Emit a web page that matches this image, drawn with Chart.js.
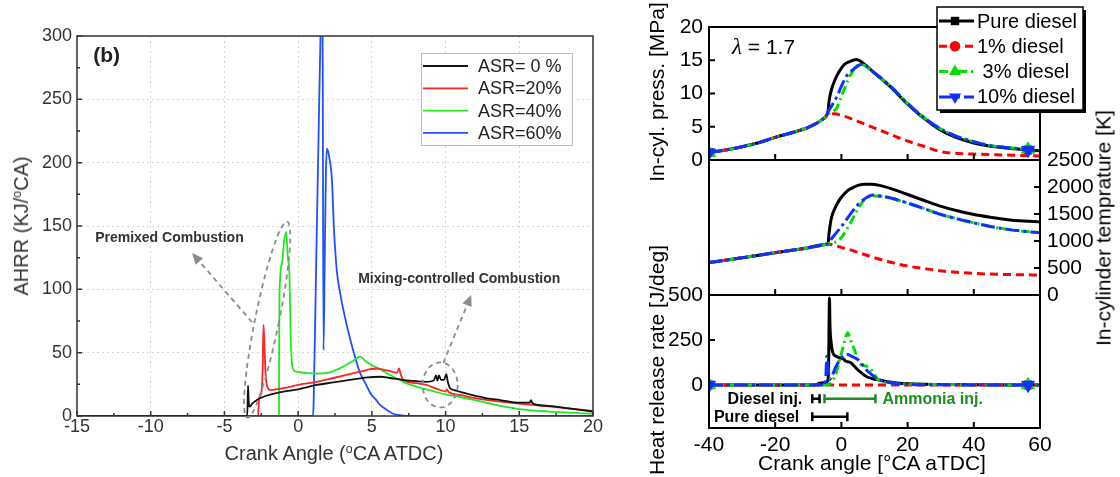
<!DOCTYPE html>
<html><head><meta charset="utf-8">
<script src="https://cdn.jsdelivr.net/npm/chart.js@4.4.1/dist/chart.umd.min.js"></script>
<style>
html,body{margin:0;padding:0;background:#fff;overflow:hidden;}
#wrap{position:relative;width:1120px;height:477px;font-family:'Liberation Sans',Arial,sans-serif;}
canvas{position:absolute;top:0;}
.t{position:absolute;white-space:nowrap;line-height:1;transform:translate(-50%,-50%);}
.r{transform:translate(-50%,-50%) rotate(-90deg);}
sup{font-size:0.62em;line-height:0;vertical-align:0.6em;}
</style></head><body>
<div id="wrap">
<canvas id="cL" width="640" height="477" style="left:0"></canvas>
<canvas id="cP" width="480" height="477" style="left:640px"></canvas>
<canvas id="cT" width="480" height="477" style="left:640px"></canvas>
<canvas id="cH" width="480" height="477" style="left:640px"></canvas>
<div class="t r" style="left:21px;top:226px;font-size:20px;color:#333">AHRR (KJ/<sup>o</sup>CA)</div>
<div class="t" style="left:334px;top:453px;font-size:20px;color:#333">Crank Angle (<sup>o</sup>CA ATDC)</div>
<div class="t r" style="left:656px;top:92px;font-size:21px;">In-cyl. press. [MPa]</div>
<div class="t r" style="left:656px;top:360px;font-size:21px;">Heat release rate [J/deg]</div>
<div class="t r" style="left:1103px;top:228px;font-size:21px;">In-cylinder temprature [K]</div>
<div class="t" style="left:872px;top:462px;font-size:21px;">Crank angle [°CA aTDC]</div>
</div>
<script>
// ---------------- LEFT CHART DATA (AHRR) ----------------
const leftLabels = ['ASR= 0 %','ASR=20%','ASR=40%','ASR=60%'];
const asr0X = [-15,-3.45,-3.4,-3.37,-3.33,-3.28,-3.1,-2.8,-2.4,-2.0,-1.5,-1.0,0,1.27,2.4,3.5,4.7,5.6,6.2,7.15,8.0,8.7,9.2,9.35,9.45,9.55,9.7,9.9,10.05,10.15,10.3,10.6,11.0,11.5,12.8,13.7,15.0,15.7,15.8,15.9,17.0,18.2,20];
const asr0Y = [0,0,24,16,8,7.4,10,12.6,15,16.5,18,19.2,21,24.5,26.5,28.5,30.5,31,30,28.4,27.5,27,28,32,28,32,28.5,28.5,33,27,22,20.5,19,17.5,14,12.6,10.5,10.5,12.5,10,8,6.3,3.5];
const asr20X = [-15,-2.72,-2.65,-2.5,-2.4,-2.35,-2.3,-2.2,-2.05,-1.9,-1.5,-1.0,0,1.27,2.4,3.5,4.2,5.3,5.6,6.4,6.7,6.85,6.95,7.15,8.0,8.7,9.5,10.0,10.1,10.2,11.0,11.8,13.7,15.0,17.5,20];
const asr20Y = [0,0,14,18,40,72,60,32,22,20.5,21,22,24.5,27,30,33,35,37.5,37,35,34,37.5,33,28.4,26,24.5,21,19.5,21,19,16.6,14.5,11.3,9.8,7,4];
const asr40X = [-15,-1.3,-1.27,-1.1,-0.95,-0.81,-0.7,-0.59,-0.5,-0.35,-0.1,0.5,1.27,2.0,2.9,3.5,3.8,4.2,4.6,5.1,5.56,6.2,6.9,7.4,8.7,9.2,10.0,11.0,12.0,13.7,15.0,17.0,20];
const asr40Y = [0,0,94,120,138,145.5,125,112,60,37,35,34,33.5,34,38,42,44,46.8,43,39.5,37,32.5,28.5,25.5,21,19.5,17,15,12.5,8,5.5,3.5,1.8];
const asr60X = [-15,1.0,1.05,1.2,1.4,1.55,1.6,1.66,1.72,1.8,1.88,1.95,2.1,2.3,2.42,2.62,2.85,3.1,3.5,3.9,4.2,4.6,4.9,5.3,5.56,6.0,6.4,7.0,7.6,20];
const asr60Y = [0,0,10,105,230,320,340,300,52,120,190,211,205,185,150,115,97,82,62,45,34,25,18,12.5,8.7,5,2,0.5,0,0];

// ---------------- RIGHT PANEL DATA ----------------
const rightLabels = ['Pure diesel','1% diesel',' 3% diesel','10% diesel'];
const markerXs = [-40, 56.4];
// In-cylinder pressure [MPa]
const pPureX = [-40,-35,-30,-25,-20,-15,-10,-6,-4.5,-4,-3.8,-3.5,-3,-2,-1,0,1,2.5,4.5,6.5,9.5,14.6,19.6,24.6,29.6,34.6,39.7,44.7,49.7,56.4,60];
const pPureY = [1.1,1.5,2.0,2.6,3.4,4.1,4.9,6.0,6.7,7.4,8.5,9.5,10.6,12.0,13.0,13.8,14.4,14.8,15.1,14.6,13.3,11.1,8.6,6.4,4.6,3.4,2.6,2.1,1.8,1.5,1.4];
const p1X = [-40,-35,-30,-25,-20,-15,-10,-6,-4,-2,0,2,5,9.5,14.6,19.6,24.6,29.6,34.6,39.7,49.7,56.4,60];
const p1Y = [1.1,1.5,2.0,2.6,3.4,4.1,4.9,6.0,6.7,6.95,6.7,6.4,5.8,4.9,3.9,2.9,2.1,1.3,1.0,0.9,0.75,0.65,0.6];
const p3X = [-40,-35,-30,-25,-20,-15,-10,-6,-4,-2,-1.5,-1,0,1,2,3,4,5.5,6.5,9.5,14.6,19.6,24.6,29.6,34.6,39.7,44.7,49.7,56.4,60];
const p3Y = [1.1,1.5,2.0,2.6,3.4,4.1,4.9,6.0,6.9,7.5,7.7,8.3,9.6,10.8,12.0,13.0,13.8,14.3,14.3,13.2,11.2,8.7,6.5,4.8,3.6,2.8,2.2,1.9,1.6,1.5];
const p10X = [-40,-35,-30,-25,-20,-15,-10,-6,-4.5,-4,-3,-2,-1,0,1.5,3.5,5.5,6.5,9.5,14.6,19.6,24.6,29.6,34.6,39.7,44.7,49.7,56.4,60];
const p10Y = [1.1,1.5,2.0,2.6,3.4,4.1,4.9,6.0,6.7,7.3,8.1,8.9,9.9,11.1,12.6,13.6,14.3,14.4,13.3,11.2,8.7,6.5,4.8,3.6,2.8,2.2,1.9,1.5,1.4];
// In-cylinder temperature [K]
const tPureX = [-40,-30,-20,-10,-5,-4,-3.8,-3.5,-3,-2,-1,0,1,2,3.5,5,7,9,11.5,15,19.6,25,29.6,35,39.7,45,49.7,55,60];
const tPureY = [600,690,784,876,935,950,1100,1250,1430,1600,1720,1810,1880,1940,1990,2030,2050,2050,2030,1970,1870,1750,1650,1560,1495,1440,1400,1370,1355];
const t1X = [-40,-30,-20,-10,-5,-4.5,-3,-1,0,2.5,5,9.5,14.6,19.6,25,29.6,35,39.7,49.7,60];
const t1Y = [600,690,784,876,935,945,935,900,880,840,790,700,610,540,490,450,420,400,380,370];
const t3X = [-40,-30,-20,-10,-5,-4,-2,-0.5,1,2.5,4,5.5,7,9.5,12,14.6,19.6,25,29.6,35,39.7,45,49.7,55,60];
const t3Y = [600,690,784,876,935,950,975,1030,1150,1310,1480,1650,1760,1835,1830,1800,1710,1600,1500,1410,1340,1270,1220,1180,1155];
const t10X = [-40,-30,-20,-10,-5,-4,-3.5,-1.5,0.5,2.5,4.5,7,9.5,12,14.6,19.6,25,29.6,35,39.7,45,49.7,55,60];
const t10Y = [600,690,784,876,935,955,1000,1154,1309,1480,1640,1780,1850,1830,1800,1710,1600,1500,1410,1340,1270,1220,1180,1155];
// Heat release rate [J/deg]
const hPureX = [-40,-8,-6.6,-5,-4.3,-3.9,-3.75,-3.6,-3.45,-3.1,-2.6,-1.6,-0.6,0.5,1.4,2.2,2.9,3.6,4.4,5.5,7.5,9.5,11.5,14,17.5,22,30,40,56.4,60];
const hPureY = [0,0,10,13,18,60,300,483,330,237,180,160,152,145,132,128,123,110,95,75,47,35,28,18,10,6,3,1,0,0];
const h1X = [-40,0,56.4,60];
const h1Y = [0,0,0,0];
const h3X = [-40,-4,-3.6,-2.5,-1.6,-0.5,0.5,1.3,1.9,2.5,3.2,3.9,4.6,5.4,6.5,8.5,10,11,13,16,20,30,40,56.4,60];
const h3Y = [0,0,5,28,66,141,210,265,290,265,230,199,160,123,110,95,57,30,15,10,5,3,1,0,0];
const h10X = [-40,-5,-4.8,-4.6,-4.4,-4.0,-3.6,-3.0,-1.6,0.4,1.9,3.0,4.9,6.2,7.5,9,10.5,12,14,17.5,22,30,40,56.4,60];
const h10Y = [0,0,5,90,160,100,30,45,104,160,170,160,142,115,85,60,38,25,15,5,2,1,0,0,0];
// Injection windows (bottom panel)
const injLabels = ['Diesel inj.','Ammonia inj.','Pure diesel'];
const injStart = [-8.8,-5.1,-8.8];
const injEnd = [-6.6,10.3,1.8];
const injLevel = [-76,-76,-176];

// ---------------- STYLES ----------------
Chart.defaults.font.family = "'Liberation Sans', Arial, sans-serif";
Chart.defaults.color = '#000';
const FONT = "'Liberation Sans', Arial, sans-serif";
const leftColors = ['#111111','#ff2222','#22e622','#2050ff'];
const rightColors = ['#000000','#ff0000','#00dd00','#1030ff'];
const rightDash = [[], [8,5], [9,4,2,4], [14,4,3,4]];
const rightMarkers = ['rect','circle','triangle','triangleDown'];
const markerRadius = [5.5, 0, 7.5, 7.5];

const zip = (xs, ys) => xs.map((x, i) => ({x: x, y: ys[i]}));

function drawMarker(ctx, type, x, y, r, color){
  ctx.save(); ctx.setLineDash([]); ctx.fillStyle = color; ctx.beginPath();
  if (type === 'rect') { ctx.rect(x - r*0.6, y - r*0.6, r*1.2, r*1.2); }
  else if (type === 'circle') { ctx.arc(x, y, r*0.75, 0, Math.PI*2); }
  else if (type === 'triangle') { ctx.moveTo(x, y - r); ctx.lineTo(x + r*0.87, y + r*0.5); ctx.lineTo(x - r*0.87, y + r*0.5); ctx.closePath(); }
  else { ctx.moveTo(x, y + r); ctx.lineTo(x + r*0.87, y - r*0.5); ctx.lineTo(x - r*0.87, y - r*0.5); ctx.closePath(); }
  ctx.fill(); ctx.restore();
}

function arrow(ctx, x1, y1, x2, y2, head){
  const ang = Math.atan2(y2 - y1, x2 - x1);
  const bx = x2 - head*Math.cos(ang), by = y2 - head*Math.sin(ang);
  ctx.beginPath(); ctx.moveTo(x1, y1); ctx.lineTo(bx, by); ctx.stroke();
  ctx.save(); ctx.setLineDash([]); ctx.beginPath();
  ctx.moveTo(x2, y2);
  ctx.lineTo(bx + head*0.45*Math.sin(ang), by - head*0.45*Math.cos(ang));
  ctx.lineTo(bx - head*0.45*Math.sin(ang), by + head*0.45*Math.cos(ang));
  ctx.closePath(); ctx.fill(); ctx.restore();
}

// ---------------- LEFT CHART ----------------
const leftXs = [asr0X, asr20X, asr40X, asr60X];
const leftYs = [asr0Y, asr20Y, asr40Y, asr60Y];
const leftSets = leftLabels.map((lab, i) => ({
  label: lab, data: zip(leftXs[i], leftYs[i]), borderColor: leftColors[i], backgroundColor: leftColors[i],
  borderWidth: 1.8, pointRadius: 0, cubicInterpolationMode: 'monotone', fill: false
}));

const leftDeco = {
  id: 'leftDeco',
  afterDatasetsDraw(chart){
    const ctx = chart.ctx, a = chart.chartArea, x = chart.scales.x, y = chart.scales.y;
    ctx.save();
    ctx.setLineDash([]); ctx.strokeStyle = '#333'; ctx.lineWidth = 1.5;
    ctx.strokeRect(a.left, a.top, a.right - a.left, a.bottom - a.top);
    ctx.beginPath();
    for (let v = -15; v <= 20; v += 2.5) { const p = x.getPixelForValue(v); const len = (Math.abs(v % 5) < 1e-6) ? 5 : 3; ctx.moveTo(p, a.bottom); ctx.lineTo(p, a.bottom - len); }
    for (let v = 0; v <= 300; v += 25) { const p = y.getPixelForValue(v); const len = (v % 50 === 0) ? 5 : 3; ctx.moveTo(a.left, p); ctx.lineTo(a.left + len, p); }
    ctx.stroke();

    // annotations
    ctx.strokeStyle = '#8c8c8c'; ctx.fillStyle = '#8c8c8c'; ctx.lineWidth = 1.8; ctx.setLineDash([5,4]);
    ctx.beginPath(); ctx.ellipse(x.getPixelForValue(-2.1), y.getPixelForValue(76), 12, 100, 0.2, 0, Math.PI*2); ctx.stroke();
    arrow(ctx, x.getPixelForValue(-3.12), y.getPixelForValue(74), x.getPixelForValue(-7.19), y.getPixelForValue(128.6), 11);
    ctx.beginPath(); ctx.ellipse(x.getPixelForValue(9.63), y.getPixelForValue(24.5), 17.5, 22.5, 0, 0, Math.PI*2); ctx.stroke();
    arrow(ctx, x.getPixelForValue(9.84), y.getPixelForValue(41.8), x.getPixelForValue(11.74), y.getPixelForValue(95.5), 11);
    ctx.setLineDash([]);
    ctx.fillStyle = '#333'; ctx.textBaseline = 'middle'; ctx.textAlign = 'left';
    ctx.font = 'bold 14px ' + FONT;
    ctx.fillText('Premixed Combustion', x.getPixelForValue(-13.77), y.getPixelForValue(140.5));
    ctx.fillText('Mixing-controlled Combustion', x.getPixelForValue(4.07), y.getPixelForValue(108));
    ctx.fillStyle = '#222'; ctx.font = 'bold 21px ' + FONT;
    ctx.fillText('(b)', x.getPixelForValue(-13.9), y.getPixelForValue(284));

    // legend
    const L = a.right - 172, T = a.top + 17, W = 151, H = 92;
    ctx.fillStyle = '#fff'; ctx.fillRect(L, T, W, H);
    ctx.strokeStyle = '#bdbdbd'; ctx.lineWidth = 1; ctx.strokeRect(L + 0.5, T + 0.5, W, H);
    ctx.font = '18px ' + FONT;
    chart.data.datasets.forEach((ds, i) => {
      const yy = T + 13 + i*22.3;
      ctx.strokeStyle = ds.borderColor; ctx.lineWidth = 1.8;
      ctx.beginPath(); ctx.moveTo(L + 2, yy); ctx.lineTo(L + 47, yy); ctx.stroke();
      ctx.fillStyle = '#222'; ctx.fillText(ds.label, L + 57, yy + 1);
    });
    ctx.restore();
  }
};

new Chart(document.getElementById('cL'), {
  type: 'line',
  data: { datasets: leftSets },
  options: {
    responsive: false, animation: false, events: [],
    layout: { padding: { top: 36, right: 47, left: 0, bottom: 0 } },
    plugins: { legend: { display: false }, tooltip: { enabled: false } },
    scales: {
      x: { type: 'linear', min: -15, max: 20,
        ticks: { stepSize: 5, padding: 0, color: '#333', font: { size: 18 }, maxRotation: 0, autoSkip: false, callback: v => String(v) },
        grid: { color: '#d6d6d6', lineWidth: 1, drawTicks: false }, border: { display: false, dash: [2,3] },
        afterFit: s => { s.height = 61; } },
      y: { type: 'linear', min: 0, max: 300,
        ticks: { stepSize: 50, padding: 5, color: '#333', font: { size: 18 }, autoSkip: false, callback: v => String(v) },
        grid: { color: '#d6d6d6', lineWidth: 1, drawTicks: false }, border: { display: false, dash: [2,3] },
        afterFit: s => { s.width = 77; } }
    }
  },
  plugins: [leftDeco]
});

// ---------------- RIGHT CHARTS ----------------
function rds(xs, ys, i, markers){
  const down = rightMarkers[i] === 'triangleDown';
  return {
    label: rightLabels[i], data: zip(xs, ys), borderColor: rightColors[i], backgroundColor: rightColors[i],
    borderWidth: 3, borderDash: rightDash[i], cubicInterpolationMode: 'monotone', fill: false,
    pointStyle: down ? 'triangle' : rightMarkers[i], pointRotation: down ? 180 : 0,
    pointRadius: markers ? (c => (c.raw && markerXs.includes(c.raw.x)) ? markerRadius[i] : 0) : 0,
    pointBorderWidth: 1, pointBorderColor: rightColors[i], pointBackgroundColor: rightColors[i],
    order: 3 - i
  };
}

function rightDeco(name, side, yTicks, extra){
  return {
    id: 'rd' + name,
    afterDatasetsDraw(chart){
      const ctx = chart.ctx, a = chart.chartArea, xs = chart.scales.x, ys = chart.scales.y;
      ctx.save(); ctx.setLineDash([]);
      ctx.strokeStyle = '#000'; ctx.lineWidth = 2;
      ctx.strokeRect(a.left, a.top, a.right - a.left, a.bottom - a.top);
      ctx.beginPath();
      [-20, 0, 20, 40].forEach(v => { const p = xs.getPixelForValue(v); ctx.moveTo(p, a.bottom); ctx.lineTo(p, a.bottom - 6); });
      yTicks.forEach(v => { const p = ys.getPixelForValue(v);
        if (side === 'left') { ctx.moveTo(a.left, p); ctx.lineTo(a.left + 6, p); } else { ctx.moveTo(a.right, p); ctx.lineTo(a.right - 6, p); } });
      ctx.stroke();
      if (extra) extra(chart, ctx, a, xs, ys);
      ctx.restore();
    }
  };
}

const xRight = (display) => {
  const s = { type: 'linear', min: -40, max: 60, display: display,
    ticks: { stepSize: 20, padding: 5, font: { size: 21 }, color: '#000', maxRotation: 0, autoSkip: false, callback: v => String(v) },
    grid: { display: false, drawTicks: false }, border: { display: false } };
  if (display) s.afterFit = sc => { sc.height = 49; };
  return s;
};

const baseOpts = (padding, scales) => ({
  responsive: false, animation: false, events: [],
  layout: { padding: padding },
  plugins: { legend: { display: false }, tooltip: { enabled: false } },
  scales: scales
});

// Top: pressure
const topExtra = (chart, ctx, a, xs, ys) => {
  ctx.fillStyle = '#000'; ctx.textBaseline = 'middle'; ctx.textAlign = 'left';
  const lx = xs.getPixelForValue(-33.05), ly = ys.getPixelForValue(16.84);
  ctx.font = "italic 23px 'Liberation Serif', serif";
  ctx.fillText('\u03BB', lx, ly);
  const w = ctx.measureText('\u03BB').width;
  ctx.font = '21px ' + FONT;
  ctx.fillText(' = 1.7', lx + w, ly);
  // legend
  const L = a.right - 103, T = 7, W = 146, H = 103;
  ctx.fillStyle = '#000'; ctx.fillRect(L + 3, T + 3, W, H);
  ctx.fillStyle = '#fff'; ctx.fillRect(L, T, W, H);
  ctx.strokeStyle = '#000'; ctx.lineWidth = 1.5; ctx.strokeRect(L, T, W, H);
  ctx.font = '20px ' + FONT;
  rightLabels.forEach((lab, i) => {
    const yy = T + 14 + i*25.3;
    ctx.strokeStyle = rightColors[i]; ctx.lineWidth = 3; ctx.setLineDash(rightDash[i]);
    ctx.beginPath(); ctx.moveTo(L + 2, yy); ctx.lineTo(L + 37, yy); ctx.stroke();
    ctx.setLineDash([]);
    drawMarker(ctx, rightMarkers[i], L + 18, yy, 7, rightColors[i]);
    ctx.fillStyle = '#000'; ctx.fillText(lab, L + 40, yy + 1);
  });
};

new Chart(document.getElementById('cP'), {
  type: 'line',
  data: { datasets: [rds(pPureX, pPureY, 0, true), rds(p1X, p1Y, 1, true), rds(p3X, p3Y, 2, true), rds(p10X, p10Y, 3, true)] },
  options: baseOpts({ top: 27, bottom: 317, left: 0, right: 80 }, {
    x: xRight(false),
    y: { type: 'linear', position: 'left', min: 0, max: 20,
      ticks: { stepSize: 5, padding: 6, font: { size: 21 }, color: '#000', autoSkip: false, callback: v => String(v) },
      grid: { display: false, drawTicks: false }, border: { display: false },
      afterFit: s => { s.width = 69; } }
  }),
  plugins: [rightDeco('P', 'left', [5, 10, 15], topExtra)]
});

// Middle: temperature
new Chart(document.getElementById('cT'), {
  type: 'line',
  data: { datasets: [rds(tPureX, tPureY, 0, false), rds(t1X, t1Y, 1, false), rds(t3X, t3Y, 2, false), rds(t10X, t10Y, 3, false)] },
  options: baseOpts({ top: 160, bottom: 182, left: 69, right: 0 }, {
    x: xRight(false),
    y: { type: 'linear', position: 'right', min: 0, max: 2500,
      ticks: { stepSize: 500, padding: 7, font: { size: 21 }, color: '#000', autoSkip: false, callback: v => String(v) },
      grid: { display: false, drawTicks: false }, border: { display: false },
      afterFit: s => { s.width = 80; } }
  }),
  plugins: [rightDeco('T', 'right', [500, 1000, 1500, 2000], null)]
});

// Bottom: heat release rate
const hrrExtra = (chart, ctx, a, xs, ys) => {
  const cols = ['#000', '#1e8c1e', '#000'];
  injLabels.forEach((lab, i) => {
    const p1 = xs.getPixelForValue(injStart[i]), p2 = xs.getPixelForValue(injEnd[i]), py = ys.getPixelForValue(injLevel[i]);
    ctx.strokeStyle = cols[i]; ctx.lineWidth = 2.5;
    ctx.beginPath(); ctx.moveTo(p1, py); ctx.lineTo(p2, py);
    ctx.moveTo(p1, py - 4.5); ctx.lineTo(p1, py + 4.5); ctx.moveTo(p2, py - 4.5); ctx.lineTo(p2, py + 4.5); ctx.stroke();
    ctx.fillStyle = cols[i]; ctx.font = 'bold 16px ' + FONT; ctx.textBaseline = 'middle';
    if (i === 1) { ctx.textAlign = 'left'; ctx.fillText(lab, p2 + 7, py + 1); }
    else { ctx.textAlign = 'right'; ctx.fillText(lab, p1 - (i === 0 ? 10 : 13), py + 1); }
  });
};

new Chart(document.getElementById('cH'), {
  type: 'line',
  data: { datasets: [rds(hPureX, hPureY, 0, true), rds(h1X, h1Y, 1, true), rds(h3X, h3Y, 2, true), rds(h10X, h10Y, 3, true)] },
  options: baseOpts({ top: 295, bottom: 0, left: 0, right: 80 }, {
    x: xRight(true),
    y: { type: 'linear', position: 'left', min: -239, max: 500,
      afterBuildTicks: s => { s.ticks = [0, 250, 500].map(v => ({ value: v })); },
      ticks: { padding: 6, font: { size: 21 }, color: '#000', autoSkip: false, callback: v => String(v) },
      grid: { display: false, drawTicks: false }, border: { display: false },
      afterFit: s => { s.width = 69; } }
  }),
  plugins: [rightDeco('H', 'left', [250], hrrExtra)]
});
</script>
</body></html>
